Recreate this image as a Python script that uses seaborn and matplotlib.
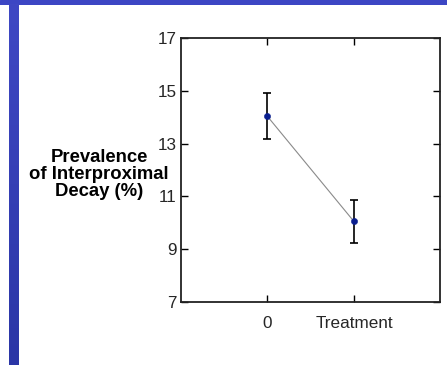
import numpy as np
import pandas as pd
import matplotlib
matplotlib.use("Agg")
import matplotlib.pyplot as plt
import seaborn as sns

# Summary values: mean prevalence and half-width of the error bars
groups = [0, 1]
tick_labels = ["0", "Treatment"]
means = [14.05, 10.05]
errors = [0.88, 0.80]
y_ticks = [7, 9, 11, 13, 15, 17]
ylabel_lines = ["Prevalence", "of Interproximal", "Decay (%)"]

sns.set_theme(style="white")
plt.rcParams["font.family"] = ["Liberation Sans", "DejaVu Sans"]

fig = plt.figure(figsize=(4.47, 3.65), dpi=100)
fig.patch.set_facecolor("white")

# Slide-style decoration: top band and left gradient bar
W, H = 447, 365
top = fig.add_axes([0, 1 - 5 / H, 1, 5 / H])
top.set_axis_off()
top.add_patch(plt.Rectangle((0, 0), 1, 1, color="#3c46c4", transform=top.transAxes))
side = fig.add_axes([9 / W, 0, 10 / W, 1 - 4 / H])
side.set_axis_off()
grad = np.linspace(0, 1, 256).reshape(-1, 1)
cmap = matplotlib.colors.LinearSegmentedColormap.from_list("bar", ["#3f48c4", "#2b36a6"])
side.imshow(grad, aspect="auto", cmap=cmap, extent=[0, 1, 0, 1], origin="upper")

ax = fig.add_axes([181 / W, (H - 302) / H, 259 / W, 264 / H])
df = pd.DataFrame({"group": groups, "prevalence": means})

sns.lineplot(data=df, x="group", y="prevalence", ax=ax, color="#8a8a8a",
             linewidth=0.8, zorder=2)
ax.errorbar(groups, means, yerr=errors, fmt="none", ecolor="black",
            elinewidth=1.2, capsize=3, capthick=1.2, zorder=3)
sns.scatterplot(data=df, x="group", y="prevalence", ax=ax, color="#0a1f8f",
                marker="o", s=20, edgecolor="#0a1f8f", zorder=4)

ax.set_xlim(-0.99, 1.99)
ax.set_ylim(7, 17)
ax.set_xticks(groups)
ax.set_xticklabels(tick_labels, fontsize=12.3)
ax.set_yticks(y_ticks)
ax.set_yticklabels([str(t) for t in y_ticks], fontsize=12.3)
ax.tick_params(direction="in", length=5, width=1, color="black",
               top=True, right=True, bottom=True, left=True)
ax.tick_params(axis="y", pad=3)
ax.tick_params(axis="x", pad=10)
for s in ax.spines.values():
    s.set_color("#222222")
    s.set_linewidth(1.3)
ax.set_xlabel("")
ax.set_ylabel("")

# Horizontal, centred y-axis title, one text per line
for i, line in enumerate(ylabel_lines):
    fig.text(99 / W, 1 - (157 + 17.5 * i) / H, line,
             ha="center", va="center", fontsize=13.3, fontweight="bold",
             color="black")

fig.savefig("out.png", dpi=100, facecolor="white")
